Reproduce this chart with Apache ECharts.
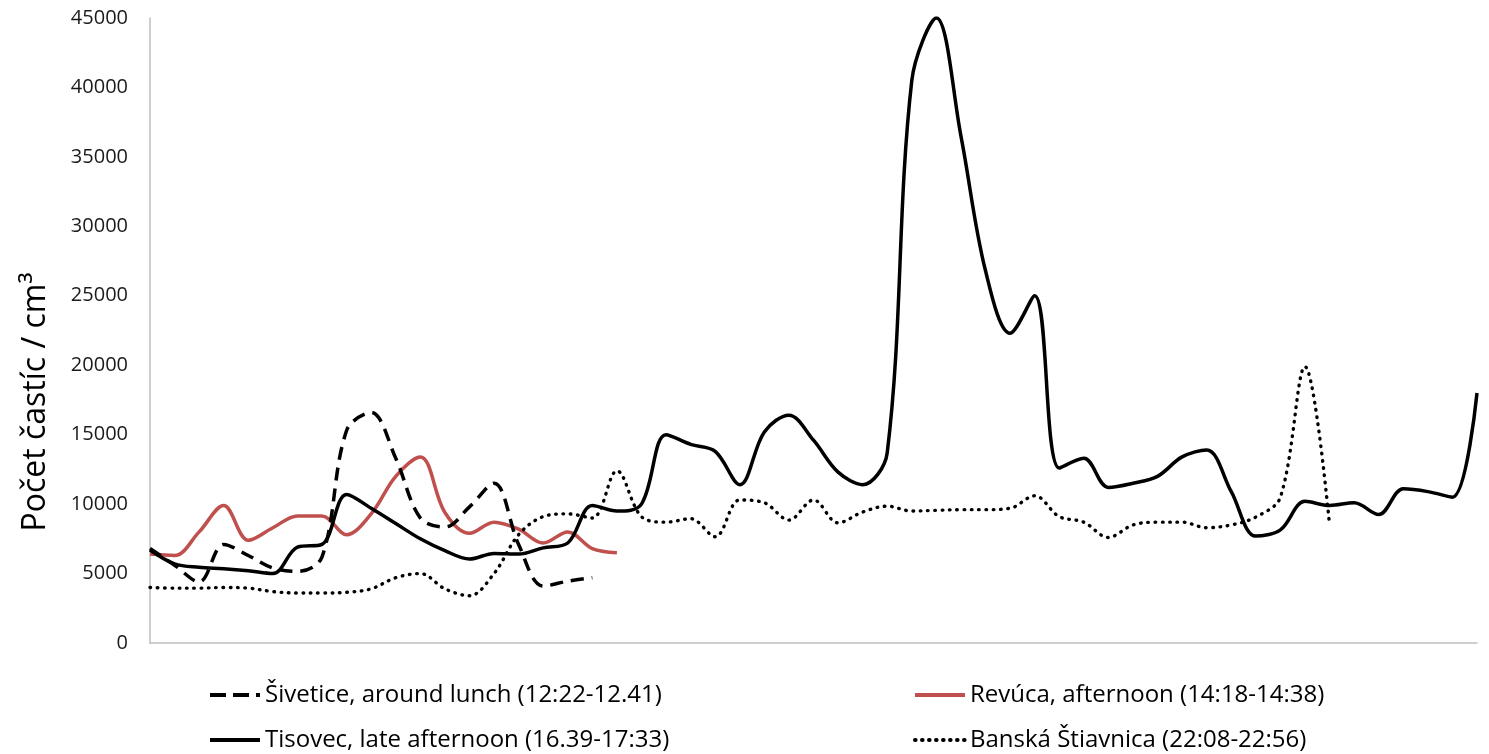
<!DOCTYPE html>
<html>
<head>
<meta charset="utf-8">
<script src="https://cdn.jsdelivr.net/npm/echarts@6/dist/echarts.min.js"></script>
<style>
  html, body { margin: 0; padding: 0; background: #fff; }
  #chart { width: 1489px; height: 754px; }
</style>
</head>
<body>
<div id="chart"></div>
<script>
// Minute offset from the start of each measurement run
const minutes = [0, 1, 2, 3, 4, 5, 6, 7, 8, 9, 10, 11, 12, 13, 14, 15, 16, 17, 18, 19,
  20, 21, 22, 23, 24, 25, 26, 27, 28, 29, 30, 31, 32, 33, 34, 35, 36, 37, 38, 39,
  40, 41, 42, 43, 44, 45, 46, 47, 48, 49, 50, 51, 52, 53, 54];

// Particle counts per cm³
const sivetice = [6800, 5600, 4400, 7100, 6300, 5400, 5150, 6200, 15300, 16600,
  13300, 9000, 8350, 9800, 11500, 7100, 4100, 4450, 4700];

const revuca = [6400, 6300, 8000, 9900, 7400, 8300, 9150, 9150, 7800, 9300,
  12000, 13400, 9400, 7900, 8700, 8200, 7200, 8000, 6800, 6500];

const tisovec = [6700, 5700, 5450, 5350, 5200, 5000, 6900, 7100, 10700, 9700,
  8600, 7500, 6650, 6050, 6450, 6400, 6850, 7200, 9900, 9500,
  10000, 15000, 14300, 13800, 11400, 15200, 16400, 14600, 12300, 11400,
  13700, 40500, 45000, 36500, 26800, 22300, 25000, 12600, 13300, 11200,
  11500, 12000, 13400, 13900, 10900, 7700, 8150, 10200, 9900, 10100,
  9250, 11100, 10900, 10500, 18000];

const banska = [4000, 3950, 3950, 4000, 3950, 3700, 3600, 3600, 3650, 3900,
  4700, 5000, 3900, 3400, 5000, 7800, 9100, 9300, 9000, 12400,
  9100, 8700, 8950, 7650, 10300, 10100, 8850, 10300, 8650, 9430,
  9850, 9500, 9550, 9600, 9600, 9700, 10600, 9100, 8700, 7600,
  8500, 8700, 8700, 8300, 8500, 9070, 10500, 19900, 8500];

const seriesNames = [
  'Šivetice, around lunch (12:22-12.41)',
  'Revúca, afternoon (14:18-14:38)',
  'Tisovec, late afternoon (16.39-17:33)',
  'Banská Štiavnica (22:08-22:56)'
];

const yTitle = 'Počet častíc / cm³';

const chart = echarts.init(document.getElementById('chart'), null, { renderer: 'canvas' });

const smooth = 0.35;

// One legend box per entry, laid out as a 2 x 2 block under the plot
function legendAt(name, left, top, dash) {
  const lineStyle = { width: 4 };
  if (dash) lineStyle.type = dash;
  return {
    data: [name],
    left: left,
    top: top,
    padding: 0,
    itemWidth: 50,
    itemHeight: 4,
    itemStyle: { opacity: 0 },
    lineStyle: lineStyle,
    textStyle: { fontFamily: 'Open Sans', fontSize: 24, color: '#000', lineHeight: 28 }
  };
}

chart.setOption({
  animation: false,
  backgroundColor: '#ffffff',
  grid: { left: 150, right: 12, top: 18, bottom: 111, containLabel: false },
  xAxis: {
    type: 'category',
    data: minutes,
    boundaryGap: false,
    axisLine: { show: true, lineStyle: { color: '#bfbfbf', width: 1.5 } },
    axisTick: { show: false },
    axisLabel: { show: false },
    splitLine: { show: false }
  },
  yAxis: {
    type: 'value',
    min: 0,
    max: 45000,
    interval: 5000,
    axisLine: { show: true, lineStyle: { color: '#bfbfbf', width: 1.5 } },
    axisTick: { show: false },
    splitLine: { show: false },
    axisLabel: {
      fontFamily: 'Open Sans',
      fontSize: 20,
      color: '#1a1a1a',
      margin: 22,
      formatter: function (v) { return String(v); }
    }
  },
  legend: [
    legendAt(seriesNames[0], 208, 681, [16, 7]),
    legendAt(seriesNames[2], 208, 726),
    legendAt(seriesNames[1], 913, 681),
    legendAt(seriesNames[3], 913, 726, [0.6, 6.4])
  ],
  graphic: [
    {
      type: 'text',
      x: 36,
      y: 402,
      rotation: Math.PI / 2,
      style: {
        text: yTitle,
        font: '32px "Open Sans"',
        fill: '#000',
        textAlign: 'center',
        textVerticalAlign: 'middle'
      }
    }
  ],
  series: [
    {
      name: seriesNames[0],
      type: 'line',
      data: sivetice,
      smooth: smooth,
      symbol: 'none',
      z: 3,
      lineStyle: { color: '#000', width: 3.5, type: [13, 8], cap: 'butt' },
      itemStyle: { color: '#000' }
    },
    {
      name: seriesNames[1],
      type: 'line',
      data: revuca,
      smooth: smooth,
      symbol: 'none',
      z: 2,
      lineStyle: { color: '#c0504d', width: 3.5 },
      itemStyle: { color: '#c0504d' }
    },
    {
      name: seriesNames[2],
      type: 'line',
      data: tisovec,
      smooth: smooth,
      symbol: 'none',
      z: 4,
      lineStyle: { color: '#000', width: 3.5 },
      itemStyle: { color: '#000' }
    },
    {
      name: seriesNames[3],
      type: 'line',
      data: banska,
      smooth: smooth,
      symbol: 'none',
      z: 3,
      lineStyle: { color: '#000', width: 3.4, type: [0.6, 6.7], cap: 'round' },
      itemStyle: { color: '#000' }
    }
  ]
});
</script>
</body>
</html>
